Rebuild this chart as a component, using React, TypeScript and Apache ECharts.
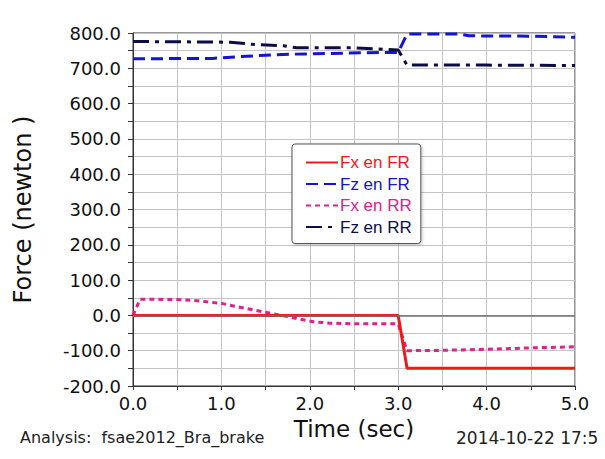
import React, { useEffect, useRef } from "react";
import * as echarts from "echarts";

const seriesNames = ["Fx en FR", "Fz en FR", "Fx en RR", "Fz en RR"];
const seriesColors = ["#ee1a1a", "#1414d2", "#e0208c", "#0c0c48"];

const fxFRTime = [0, 3.0, 3.1, 5.0];
const fxFRVal = [0, 0, -150, -150];

const fzFRTime = [0, 0.9, 1.2, 1.5, 1.8, 2.2, 2.6, 3.0, 3.1, 3.7, 3.8, 4.5, 5.0];
const fzFRVal = [727, 728, 733, 737, 740, 742, 744, 745, 797, 797, 792, 791, 788];

const fxRRTime = [0, 0.08, 0.5, 0.75, 1.0, 1.25, 1.5, 1.72, 2.04, 2.23, 2.5, 3.0, 3.1, 3.5, 4.0, 4.5, 5.0];
const fxRRVal = [0, 46, 45, 41, 34, 21, 9, -2, -18, -22, -24, -24, -100, -99, -96, -92, -89];

const fzRRTime = [0, 1.1, 1.35, 1.7, 1.85, 2.5, 3.0, 3.1, 4.0, 5.0];
const fzRRVal = [776, 774, 768, 764, 758, 758, 752, 709, 709, 708];

const xTickLabels = ["0.0", "1.0", "2.0", "3.0", "4.0", "5.0"];
const yTickLabels = ["-200.0", "-100.0", "0.0", "100.0", "200.0", "300.0", "400.0", "500.0", "600.0", "700.0", "800.0"];

const zip = (t: number[], v: number[]) => t.map((x, i) => [x, v[i]]);

export default function App() {
  const ref = useRef<HTMLDivElement>(null);
  useEffect(() => {
    if (!ref.current) return;
    const chart = echarts.init(ref.current, undefined, { renderer: "svg" });
    const tickFont = "DejaVu Sans";
    const lineW = 3;
    chart.setOption({
      animation: false,
      backgroundColor: "#ffffff",
      grid: {
        left: 133,
        right: 30,
        top: 33,
        bottom: 73,
        show: true,
        borderColor: "#333333",
        borderWidth: 1,
      },
      legend: {
        orient: "vertical",
        left: 292,
        top: 144,
        padding: [10, 9, 8, 13],
        itemWidth: 32,
        itemHeight: 14,
        itemGap: 4.5,
        backgroundColor: "#ffffff",
        borderColor: "#555555",
        borderWidth: 1,
        borderRadius: 3,
        shadowColor: "rgba(0,0,0,0.25)",
        shadowBlur: 3,
        shadowOffsetX: 1,
        shadowOffsetY: 1,
        itemStyle: { color: "rgba(0,0,0,0)", borderWidth: 0, opacity: 0 },
        textStyle: { fontFamily: "Liberation Sans", fontSize: 17, padding: [0, 0, 0, -3] },
        data: seriesNames.map((n, i) => ({ name: n, textStyle: { color: seriesColors[i] } })),
      },
      xAxis: {
        type: "value",
        min: 0,
        max: 5,
        interval: 1,
        name: "Time (sec)",
        nameLocation: "middle",
        nameGap: 31,
        nameTextStyle: { fontFamily: tickFont, fontSize: 23, color: "#111" },
        axisLine: { show: true, onZero: false, lineStyle: { color: "#333", width: 1 } },
        axisTick: { show: true, inside: false, length: 4, lineStyle: { color: "#333" } },
        minorTick: { show: true, splitNumber: 2, length: 4, lineStyle: { color: "#333" } },
        splitLine: { show: true, lineStyle: { color: "#c4c4c4", width: 1 } },
        minorSplitLine: { show: true, lineStyle: { color: "#c4c4c4", width: 1 } },
        axisLabel: {
          margin: 8,
          fontFamily: tickFont,
          fontSize: 18,
          color: "#111",
          formatter: (v: number) => xTickLabels[Math.round(v)] ?? "",
        },
      },
      yAxis: {
        type: "value",
        min: -200,
        max: 800,
        interval: 100,
        name: "Force (newton )",
        nameLocation: "middle",
        nameGap: 98,
        nameTextStyle: { fontFamily: tickFont, fontSize: 24, color: "#111" },
        axisLine: { show: true, lineStyle: { color: "#333", width: 1 } },
        axisTick: { show: true, length: 5, lineStyle: { color: "#333" } },
        minorTick: { show: true, splitNumber: 2, length: 5, lineStyle: { color: "#333" } },
        splitLine: { show: true, lineStyle: { color: "#c4c4c4", width: 1 } },
        minorSplitLine: { show: true, lineStyle: { color: "#c4c4c4", width: 1 } },
        axisLabel: {
          margin: 12,
          fontFamily: tickFont,
          fontSize: 18,
          color: "#111",
          formatter: (v: number) => yTickLabels[Math.round((v + 200) / 100)] ?? "",
        },
      },
      series: [
        {
          name: seriesNames[1],
          type: "line",
          symbol: "none",
          z: 2,
          color: seriesColors[1],
          lineStyle: { color: seriesColors[1], width: lineW, type: [12, 6] },
          data: zip(fzFRTime, fzFRVal),
        },
        {
          name: seriesNames[3],
          type: "line",
          symbol: "none",
          z: 2,
          color: seriesColors[3],
          lineStyle: { color: seriesColors[3], width: lineW, type: [16, 6, 4, 6] },
          data: zip(fzRRTime, fzRRVal),
        },
        {
          name: seriesNames[2],
          type: "line",
          symbol: "none",
          z: 3,
          color: seriesColors[2],
          lineStyle: { color: seriesColors[2], width: lineW, type: [5, 4] },
          data: zip(fxRRTime, fxRRVal),
          markLine: {
            silent: true,
            symbol: "none",
            label: { show: false },
            lineStyle: { color: "#6e6e6e", width: 1.5, type: "solid" },
            data: [{ yAxis: 0 }],
          },
        },
        {
          name: seriesNames[0],
          type: "line",
          symbol: "none",
          z: 4,
          color: seriesColors[0],
          lineStyle: { color: seriesColors[0], width: lineW, type: "solid" },
          data: zip(fxFRTime, fxFRVal),
        },
      ],
      graphic: [
        {
          type: "text",
          left: 20,
          top: 429,
          style: {
            text: "Analysis:  fsae2012_Bra_brake",
            fontFamily: tickFont,
            fontSize: 16,
            fill: "#222",
          },
        },
        {
          type: "text",
          left: 456,
          top: 429,
          style: {
            text: "2014-10-22 17:5",
            fontFamily: tickFont,
            fontSize: 17,
            fill: "#222",
          },
        },
      ],
    });
    return () => chart.dispose();
  }, []);
  return (
    <div
      ref={ref}
      style={{ position: "fixed", left: 0, top: 0, width: 605, height: 459 }}
    />
  );
}
